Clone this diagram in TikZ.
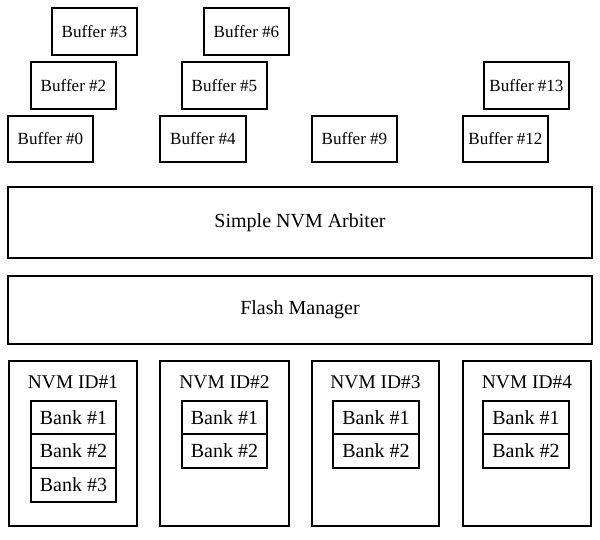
\documentclass[tikz,border=0pt]{standalone}
\usepackage{fontspec}
\setmainfont{Liberation Serif}
\usetikzlibrary{fit}
\begin{document}
\begin{tikzpicture}[x=0.85pt,y=-0.85pt,
  box/.style={draw,line width=1.8pt,inner sep=0pt,fill=white},
  buf/.style={box,label={[font=\fontsize{14.5}{16}\selectfont,inner sep=0pt]center:#1}},
  wide/.style={box,label={[font=\fontsize{17}{19}\selectfont,inner sep=0pt]center:#1}},
  nvm/.style={box},
  bank/.style={box,label={[font=\fontsize{17}{19}\selectfont,inner sep=0pt]center:#1}},
  title/.style={font=\fontsize{16.5}{19}\selectfont,inner sep=0pt}]
\useasboundingbox (0,0) rectangle (600,540);
% buffers
\node[buf={Buffer \#3},fit={(52,8) (137,55)}] (b3) {};
\node[buf={Buffer \#2},fit={(31,62) (116,109)}] (b2) {};
\node[buf={Buffer \#0},fit={(8,116) (93,162)}] (b0) {};
\node[buf={Buffer \#6},fit={(204,8) (289,55)}] (b6) {};
\node[buf={Buffer \#5},fit={(182,62) (267,109)}] (b5) {};
\node[buf={Buffer \#4},fit={(160,116) (246,162)}] (b4) {};
\node[buf={Buffer \#9},fit={(312,116) (397,162)}] (b9) {};
\node[buf={Buffer \#13},fit={(484,62) (569,109)}] (b13) {};
\node[buf={Buffer \#12},fit={(463,116) (548,162)}] (b12) {};
% bars
\node[wide={Simple NVM Arbiter},fit={(8,187) (592,258)}] (arb) {};
\node[wide={Flash Manager},fit={(8,276) (592,344)}] (fm) {};
% NVM modules
\node[nvm,fit={(9,361) (137,526)}] (n1) {};
\node[title] (t1) at (73,382) {NVM ID\#1};
\node[bank={Bank \#1},fit={(31,401) (116,434)}] (n1b1) {};
\node[bank={Bank \#2},fit={(31,434) (116,468)}] (n1b2) {};
\node[bank={Bank \#3},fit={(31,468) (116,502)}] (n1b3) {};
\node[nvm,fit={(160,361) (289,526)}] (n2) {};
\node[title] (t2) at (224.5,382) {NVM ID\#2};
\node[bank={Bank \#1},fit={(182,401) (267,434)}] (n2b1) {};
\node[bank={Bank \#2},fit={(182,434) (267,468)}] (n2b2) {};
\node[nvm,fit={(312,361) (439,526)}] (n3) {};
\node[title] (t3) at (375.5,382) {NVM ID\#3};
\node[bank={Bank \#1},fit={(333,401) (419,434)}] (n3b1) {};
\node[bank={Bank \#2},fit={(333,434) (419,468)}] (n3b2) {};
\node[nvm,fit={(463,361) (591,526)}] (n4) {};
\node[title] (t4) at (527,382) {NVM ID\#4};
\node[bank={Bank \#1},fit={(483,401) (569,434)}] (n4b1) {};
\node[bank={Bank \#2},fit={(483,434) (569,468)}] (n4b2) {};
\end{tikzpicture}
\end{document}
